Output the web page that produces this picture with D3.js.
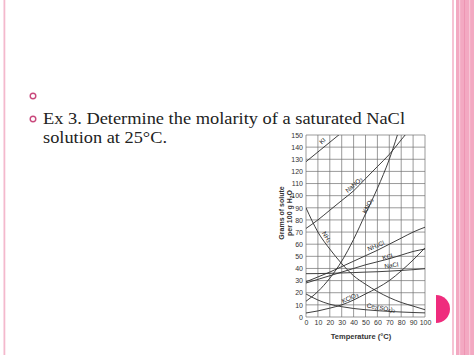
<!DOCTYPE html>
<html><head><meta charset="utf-8">
<script src="https://cdn.jsdelivr.net/npm/d3@7"></script>
<style>html,body{margin:0;padding:0;background:#fff;}svg{display:block;}</style>
</head><body>
<script>
// ---- data ----
const xTicks = [0,10,20,30,40,50,60,70,80,90,100];
const yTicks = [0,10,20,30,40,50,60,70,80,90,100,110,120,130,140,150];
const temps = [0,10,20,30,40,50,60,70,80,90,100];
const KI      = [128,136,144,152,160];
const NaNO3   = [73,80,88,96,104,114,124,134,146,158];
const KNO3    = [13,21,32,46,64,85,106,130,160];
const NH3     = [90,70,56,44,34,27,21,16,12,9,6];
const NH4Cl   = [29,33,37,41.5,46,50.5,55,60,65,70,74];
const KCl     = [28,31,34,37,40,43,45.5,48,51,54,56];
const NaCl    = [35.7,35.8,36,36.3,36.6,37,37.3,37.8,38.4,39,39.8];
const KClO3   = [3.3,5,7.3,10,14,19,24,30,38,47,57];
const Ce2SO43 = [19,14,10.5,8.5,7,6,5.2,4.6,4.1,3.7,3.4];
const seriesNames = ["KI","NaNO3","KNO3","NH3","NH4Cl","KCl","NaCl","KClO3","Ce2SO43"];
const seriesVals = [KI,NaNO3,KNO3,NH3,NH4Cl,KCl,NaCl,KClO3,Ce2SO43];
const line1 = "Ex 3. Determine the molarity of a saturated NaCl";
const line2 = "solution at 25°C.";

const W=474,H=355;
const svg=d3.select("body").append("svg").attr("width",W).attr("height",H);
svg.append("rect").attr("width",W).attr("height",H).attr("fill","#fff");

// slide decoration
svg.append("rect").attr("x",3.5).attr("y",0).attr("width",1.8).attr("height",H).attr("fill","#F4B9CD");
svg.append("rect").attr("x",452).attr("y",0).attr("width",2).attr("height",H).attr("fill","#F6C3D4");
svg.append("rect").attr("x",456).attr("y",0).attr("width",18).attr("height",H).attr("fill","#F3A9C2");
svg.append("rect").attr("x",459).attr("y",0).attr("width",1.2).attr("height",H).attr("fill","#F8CADA");
svg.append("rect").attr("x",464).attr("y",0).attr("width",1).attr("height",H).attr("fill","#EE95B3");
svg.append("rect").attr("x",469).attr("y",0).attr("width",1.2).attr("height",H).attr("fill","#F8C6D6");
svg.append("path").attr("d","M436,295 A14,14 0 0 1 436,323 Z").attr("fill","#EF2C7D");

// bullets and text
[[33,96],[33,119]].forEach(p=>svg.append("circle").attr("cx",p[0]).attr("cy",p[1]).attr("r",2.8)
  .attr("fill","none").attr("stroke","#C9487C").attr("stroke-width",1.4));
const tf="'Liberation Serif','Times New Roman',serif";
svg.append("text").attr("x",43).attr("y",124).attr("font-family",tf).attr("font-size",17.5).attr("fill","#222")
  .attr("textLength",362).attr("lengthAdjust","spacingAndGlyphs").text(line1);
svg.append("text").attr("x",43).attr("y",143).attr("font-family",tf).attr("font-size",17.5).attr("fill","#222")
  .attr("textLength",124).attr("lengthAdjust","spacingAndGlyphs").text(line2);

// chart
const x=d3.scaleLinear().domain([0,100]).range([306,425]);
const y=d3.scaleLinear().domain([0,150]).range([317,135]);
const g=svg.append("g");
const gridC="#707070";
g.selectAll(".vg").data(xTicks).join("line").attr("x1",d=>x(d)).attr("x2",d=>x(d))
  .attr("y1",y(0)).attr("y2",y(150)).attr("stroke",gridC).attr("stroke-width",0.7);
g.selectAll(".hg").data(yTicks).join("line").attr("y1",d=>y(d)).attr("y2",d=>y(d))
  .attr("x1",x(0)).attr("x2",x(100)).attr("stroke",gridC).attr("stroke-width",0.7);

const sf="'Liberation Sans',Arial,sans-serif";
const ax=g.append("g").attr("transform",`translate(0,${y(0)})`)
  .call(d3.axisBottom(x).tickValues(xTicks).tickSize(0).tickPadding(3));
const ay=g.append("g").attr("transform",`translate(${x(0)},0)`)
  .call(d3.axisLeft(y).tickValues(yTicks).tickSize(0).tickPadding(3));
[ax,ay].forEach(a=>{a.select(".domain").remove();
  a.selectAll("text").attr("font-family",sf).attr("font-size",7).attr("fill","#333");});

svg.append("text").attr("x",361).attr("y",339).attr("text-anchor","middle").attr("font-family",sf)
  .attr("font-size",7.5).attr("font-weight","bold").attr("fill","#333").text("Temperature (°C)");
const yt=svg.append("text").attr("transform","translate(284,213) rotate(-90)").attr("text-anchor","middle")
  .attr("font-family",sf).attr("font-size",7).attr("font-weight","bold").attr("fill","#333");
yt.append("tspan").attr("x",0).attr("dy",0).text("Grams of solute");
const t2=yt.append("tspan").attr("x",0).attr("dy",8).text("per 100 g H");
t2.append("tspan").attr("font-size",5).attr("dy",2).text("2");
yt.append("tspan").attr("dy",-2).text("O");

// curves
svg.append("clipPath").attr("id","pc").append("rect").attr("x",x(0)).attr("y",y(150)).attr("width",x(100)-x(0)).attr("height",y(0)-y(150));
const lineGen=d3.line().x(d=>x(d[0])).y(d=>y(d[1])).curve(d3.curveMonotoneX);
const cg=svg.append("g").attr("clip-path","url(#pc)");
seriesVals.forEach(vals=>{
  const pts=vals.map((v,i)=>[temps[i],v]);
  cg.append("path").attr("d",lineGen(pts)).attr("fill","none").attr("stroke","#2a2a2a").attr("stroke-width",0.9);
});

// curve labels
const labels=[
 {t:"KI",x:322.5,y:141,r:-42},
 {t:"NaNO3",x:354,y:185,r:-40},
 {t:"KNO3",x:368,y:206,r:-63},
 {t:"NH3",x:326.5,y:237,r:60},
 {t:"NH4Cl",x:376,y:246,r:-22},
 {t:"KCl",x:387.5,y:257,r:-15},
 {t:"NaCl",x:391.5,y:265.5,r:-8},
 {t:"KClO3",x:350,y:298,r:-25},
 {t:"Ce2(SO4)3",x:381,y:308,r:10}
];
labels.forEach(l=>{
  const te=svg.append("text").attr("transform",`translate(${l.x},${l.y}) rotate(${l.r})`)
    .attr("text-anchor","middle").attr("dominant-baseline","middle")
    .attr("font-family",sf).attr("font-size",6.3).attr("fill","#222");
  const parts=l.t.split(/(\d+)/);
  parts.forEach(p=>{ if(!p) return;
    if(/^\d+$/.test(p)) te.append("tspan").attr("font-size",4.5).attr("dy",1.5).text(p);
    else { const s=te.append("tspan").text(p); if(te.node().childNodes.length>1) s.attr("dy",-1.5); }
  });
});
</script>
</body></html>
